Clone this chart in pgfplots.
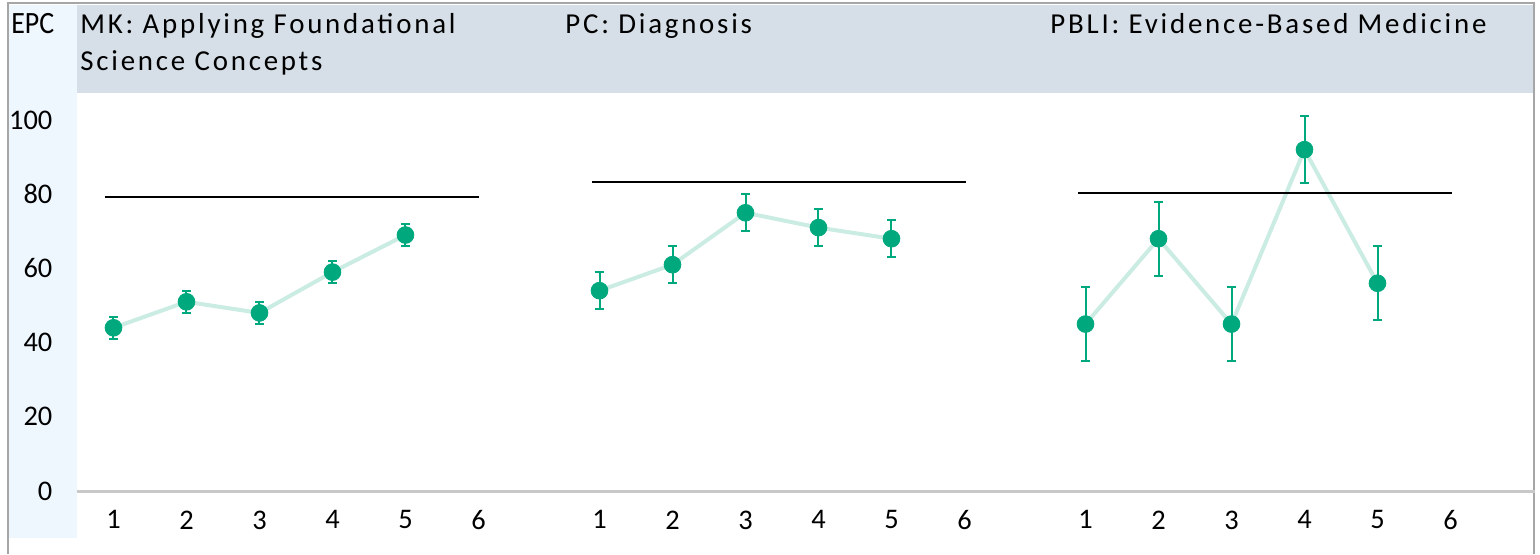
\documentclass[border=0pt]{standalone}
\usepackage{fontspec}
\setmainfont{Carlito}
\newfontfamily\hdrfont[LetterSpace=9.6]{Carlito}
\usepackage{pgfplots}
\pgfplotsset{compat=1.18}
\definecolor{mk}{HTML}{00A87E}
\definecolor{lnk}{HTML}{CBECE3}
\definecolor{hdr}{HTML}{D6DFE8}
\definecolor{colbg}{HTML}{EEF6FE}
\definecolor{frame}{HTML}{A6A6A6}
\definecolor{base}{HTML}{C8C8C8}
\pgfplotsset{
  panel/.style={
    at={(#1,31.5pt)}, anchor=south west,
    scale only axis, width=243pt, height=185.5pt,
    xmin=0.5, xmax=7.158, ymin=0, ymax=100,
    axis x line=bottom, axis y line=left,
    x axis line style={-, draw=base, line width=1.5pt},
    y axis line style={-, draw=none},
    xtick={1,...,6}, ytick={0,20,...,100},
    tick style={draw=none},
    /pgf/number format/assume math mode=true,
    ticklabel style={font=\fontsize{14.2}{16}\selectfont},
    xticklabel style={inner sep=0pt, yshift=-7.5pt},
    yticklabel style={inner sep=0pt, xshift=-10pt},
    clip=false,
  },
  conn/.style={lnk, line width=2pt, no marks},
  pts/.style={only marks, mark=*, mark size=4.2pt, mark options={fill=mk, draw=mk},
    error bars/.cd, y dir=both, y explicit,
    error bar style={mk, line width=1pt},
    error mark options={rotate=90, mark size=2.2pt, line width=1pt, mk}},
  tgt/.style={black, line width=1pt, no marks},
}
\pgfplotstableread{
x y e
1 44 3
2 51 3
3 48 3
4 59 3
5 69 3
}\dataA
\pgfplotstableread{
x y e
1 54 5
2 61 5
3 75 5
4 71 5
5 68 5
}\dataB
\pgfplotstableread{
x y e
1 45 10
2 68 10
3 45 10
4 92 9
5 56 10
}\dataC
\begin{document}
\begin{tikzpicture}
\useasboundingbox (0pt,0pt) rectangle (770pt,277pt);
\fill[colbg] (4.5pt,8pt) rectangle (38.5pt,274.5pt);
\fill[hdr] (38.5pt,230.5pt) rectangle (766.5pt,274.5pt);
\draw[frame, line width=1pt] (3.75pt,0pt) -- (3.75pt,275.75pt) -- (766.75pt,275.75pt) -- (766.75pt,0pt);
\node[anchor=base west, inner sep=0pt, xscale=0.9, font=\fontsize{15.5}{16}\selectfont] at (5.5pt,260.5pt) {EPC};
\node[anchor=base west, inner sep=0pt, font=\fontsize{14.45}{16}\hdrfont] at (40pt,260.5pt) {MK: Applying Foundational};
\node[anchor=base west, inner sep=0pt, font=\fontsize{14.45}{16}\hdrfont] at (40pt,242pt) {Science Concepts};
\node[anchor=base west, inner sep=0pt, font=\fontsize{14.45}{16}\hdrfont] at (282.5pt,260.5pt) {PC: Diagnosis};
\node[anchor=base west, inner sep=0pt, font=\fontsize{14.45}{16}\hdrfont] at (525pt,260.5pt) {PBLI: Evidence-Based Medicine};

\begin{axis}[panel=38.5pt]
\addplot[conn] table[x=x,y=y] {\dataA};
\addplot[tgt] coordinates {(0.89,79.3) (6.01,79.3)};
\addplot[pts] table[x=x,y=y,y error=e] {\dataA};
\end{axis}
\begin{axis}[panel=281.5pt, yticklabels={}]
\addplot[conn] table[x=x,y=y] {\dataB};
\addplot[tgt] coordinates {(0.9,83.2) (6.02,83.2)};
\addplot[pts] table[x=x,y=y,y error=e] {\dataB};
\end{axis}
\begin{axis}[panel=524.5pt, yticklabels={}]
\addplot[conn] table[x=x,y=y] {\dataC};
\addplot[tgt] coordinates {(0.9,80.3) (6.02,80.3)};
\addplot[pts] table[x=x,y=y,y error=e] {\dataC};
\end{axis}
\end{tikzpicture}
\end{document}
